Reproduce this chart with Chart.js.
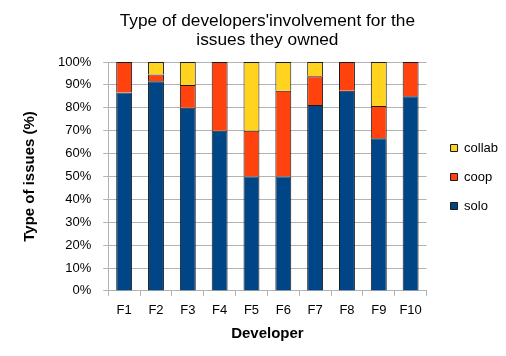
<!DOCTYPE html>
<html>
<head>
<meta charset="utf-8">
<script src="https://cdn.jsdelivr.net/npm/chart.js@4"></script>
<style>
html,body{margin:0;padding:0;background:#fff;}
</style>
</head>
<body>
<canvas id="c" width="506" height="356"></canvas>
<script>
const categories = ['F1','F2','F3','F4','F5','F6','F7','F8','F9','F10'];
const solo   = [86.7, 91.6, 80, 70, 50, 50, 81.25, 87.5, 66.7, 85];
const coop   = [13.3, 3.0, 10, 30, 20, 37.5, 12.5, 12.5, 14.1, 15];
const collab = [0, 5.4, 10, 0, 30, 12.5, 6.25, 0, 19.2, 0];
const yTicks = [0,10,20,30,40,50,60,70,80,90,100];

const gridColor = '#b3b3b3';
const font = 'Liberation Sans, Arial, sans-serif';

const legendShift = {
  id: 'legendShift',
  afterInit(chart) {
    const lg = chart.legend;
    if (!lg) return;
    const orig = lg.draw.bind(lg);
    lg.draw = function(area) {
      const ctx = chart.ctx;
      ctx.save();
      ctx.translate(8, 0);
      orig(area);
      ctx.restore();
    };
  }
};

new Chart(document.getElementById('c'), {
  type: 'bar',
  data: {
    labels: categories,
    datasets: [
      {label:'solo', data: solo, backgroundColor:'#004586', borderColor:'#1a1a1a', borderWidth:1},
      {label:'coop', data: coop, backgroundColor:'#ff420e', borderColor:'#1a1a1a', borderWidth:1},
      {label:'collab', data: collab, backgroundColor:'#ffd320', borderColor:'#1a1a1a', borderWidth:1}
    ]
  },
  plugins: [legendShift],
  options: {
    responsive: false,
    animation: false,
    devicePixelRatio: 1,
    layout: {padding: {left: 21, right: 6, top: 8, bottom: 10}},
    datasets: {bar: {barPercentage: 0.5, categoryPercentage: 1.0}},
    plugins: {
      title: {
        display: true,
        fullSize: false,
        text: ["Type of developers'involvement for the", 'issues they owned'],
        color: '#000',
        font: {family: font, size: 17.3, weight: 'normal', lineHeight: 1.07},
        padding: {top: 4, bottom: 13}
      },
      legend: {
        position: 'right',
        reverse: true,
        labels: {
          boxWidth: 7, boxHeight: 7, padding: 16,
          color: '#000',
          font: {family: font, size: 13}
        }
      },
      tooltip: {enabled: false}
    },
    scales: {
      x: {
        stacked: true,
        grid: {drawOnChartArea: false, drawTicks: true, tickLength: 5, color: gridColor, offset: true},
        border: {color: gridColor},
        ticks: {color: '#000', padding: 7, font: {family: font, size: 13}},
        title: {display: true, text: 'Developer', color: '#000', font: {family: font, size: 15, weight: 'bold', lineHeight: 1.1}, padding: {top: 0, bottom: 4}}
      },
      y: {
        stacked: true,
        min: 0, max: 100,
        afterBuildTicks: (axis) => { axis.ticks = yTicks.map(v => ({value: v})); },
        grid: {color: gridColor, tickLength: 5},
        border: {color: gridColor},
        ticks: {color: '#000', padding: 12, font: {family: font, size: 13}, callback: v => v + '%'},
        title: {display: true, text: 'Type of issues (%)', color: '#000', font: {family: font, size: 15, weight: 'bold'}, padding: {top: 0, bottom: 7}}
      }
    }
  }
});
</script>
</body>
</html>
